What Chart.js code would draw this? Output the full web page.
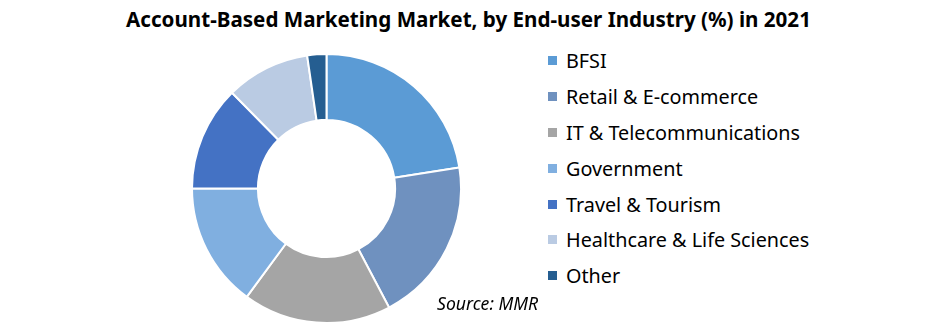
<!DOCTYPE html>
<html>
<head>
<meta charset="utf-8">
<script src="https://cdn.jsdelivr.net/npm/chart.js@4"></script>
<style>
  body { margin: 0; background: #fff; }
  #wrap { position: relative; width: 941px; height: 327px; overflow: hidden; font-family: "Noto Sans", sans-serif; color: #000; }
  #titulo { position: absolute; left: 0; top: 5px; width: 937px; text-align: center; font-weight: bold; font-size: 20.6px; }
  #caixaGrafico { position: absolute; left: 191px; top: 53px; width: 271px; height: 271px; }
  #legenda { position: absolute; left: 548px; top: 43px; }
  .item { height: 35.8px; display: flex; align-items: center; font-size: 19.8px; white-space: nowrap; }
  .quadrado { width: 9px; height: 9px; margin-right: 9px; }
  #fonte { position: absolute; left: 437px; top: 291px; font-style: italic; font-size: 17.6px; }
</style>
</head>
<body>
<div id="wrap">
  <div id="titulo">Account-Based Marketing Market, by End-user Industry (%) in 2021</div>
  <div id="caixaGrafico"><canvas id="graficoMercado"></canvas></div>
  <div id="legenda"></div>
  <div id="fonte">Source: MMR</div>
</div>
<script>
/* Dados do gráfico */
const setores = ["BFSI", "Retail & E-commerce", "IT & Telecommunications", "Government", "Travel & Tourism", "Healthcare & Life Sciences", "Other"]
const participacao = [22.5, 19.8, 17.8, 14.9, 12.6, 10.1, 2.3]
const cores = ["#5B9BD5", "#6F91BF", "#A5A5A5", "#80AFE0", "#4472C4", "#BACBE3", "#255E91"]

/* Legenda montada a partir dos mesmos arrays */
const legenda = document.getElementById("legenda")
setores.forEach((nome, i) => {
    const item = document.createElement("div")
    item.className = "item"
    const q = document.createElement("span")
    q.className = "quadrado"
    q.style.background = cores[i]
    item.appendChild(q)
    item.appendChild(document.createTextNode(nome))
    legenda.appendChild(item)
})

/* Gráfico de rosca */
const graficoMercado = document.getElementById("graficoMercado")
new Chart(graficoMercado, {
    type: 'doughnut',
    data: {
      labels: setores,
      datasets: [{
        data: participacao,
        backgroundColor: cores,
        borderColor: '#ffffff',
        borderWidth: 2
      }]
    },
    options: {
      responsive: true,
      maintainAspectRatio: false,
      animation: false,
      cutout: '51%',
      layout: { padding: 0 },
      plugins: {
        legend: { display: false },
        tooltip: { enabled: false }
      }
    }
});
</script>
</body>
</html>
